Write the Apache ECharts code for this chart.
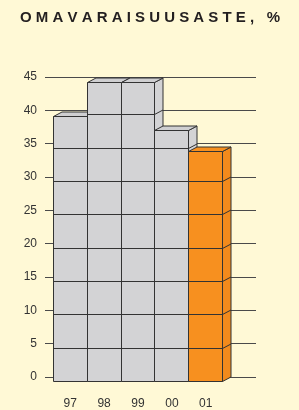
<!DOCTYPE html>
<html>
<head>
<meta charset="utf-8">
<script src="https://cdn.jsdelivr.net/npm/echarts@6/dist/echarts.min.js"></script>
<style>
  html, body { margin: 0; padding: 0; background: #fff9d6; }
  #chart { width: 299px; height: 410px; }
</style>
</head>
<body>
<div id="chart"></div>
<script>
// data
const years = ['97', '98', '99', '00', '01']
const values = [39.7, 44.8, 44.9, 37.7, 34.5]
const yMin = 0
const yMax = 45
const yStep = 5
const highlight = '01'

// look
const grey = '#d3d3d5'
const greyTop = '#cfcfd1'
const orange = '#f7901f'
const orangeSide = '#f28a1c'
const edge = '#333333'
const dx = 8.5 // depth offset of the 3d boxes
const dy = 4.5

function snap (v) {
  return Math.round(v - 0.5) + 0.5
}

function renderBox (params, api) {
  const i = api.value(0)
  const v = api.value(1)
  const base = api.coord([i, 0])
  const bw = api.size([1, 0])[0]
  const left = snap(base[0] - bw / 2)
  const right = snap(base[0] + bw / 2)
  const bottom = snap(base[1])
  const top = snap(api.coord([i, v])[1])
  const isHi = years[i] === highlight
  const face = isHi ? orange : grey
  const side = isHi ? orangeSide : grey
  const lineStyle = { stroke: edge, lineWidth: 1, fill: null }
  const children = [
    {
      type: 'polygon',
      shape: { points: [[right, bottom], [right + dx, bottom - dy], [right + dx, top - dy], [right, top]] },
      style: { fill: side, stroke: edge, lineWidth: 1 }
    },
    {
      type: 'polygon',
      shape: { points: [[left, top], [left + dx, top - dy], [right + dx, top - dy], [right, top]] },
      style: { fill: isHi ? orange : greyTop, stroke: edge, lineWidth: 1 }
    },
    {
      type: 'rect',
      shape: { x: left, y: top, width: right - left, height: bottom - top },
      style: { fill: face, stroke: edge, lineWidth: 1 }
    }
  ]
  // grid lines drawn on the faces of each box
  for (let t = yStep; t < v; t += yStep) {
    const y = snap(api.coord([i, t])[1])
    children.push({ type: 'line', shape: { x1: left, y1: y, x2: right, y2: y }, style: lineStyle })
    children.push({ type: 'line', shape: { x1: right, y1: y, x2: right + dx, y2: y - dy }, style: lineStyle })
  }
  return { type: 'group', children: children }
}

let myChart = echarts.init(document.getElementById('chart'))
myChart.setOption({
  backgroundColor: '#fff9d6',
  animation: false,
  title: {
    text: 'O M A V A R A I S U U S A S T E ,   %',
    left: 15,
    top: 5,
    textStyle: {
      fontFamily: 'Liberation Sans',
      fontSize: 15,
      fontWeight: 'bold',
      color: '#231f20'
    }
  },
  grid: [
    // back wall with the grid lines
    { left: 45, right: 43, top: 77, bottom: 33 },
    // front plane of the boxes
    { left: 53.3, right: 76.3, top: 77 + dy, bottom: 33 - dy }
  ],
  xAxis: [
    { gridIndex: 0, type: 'category', data: years, show: false },
    {
      gridIndex: 1,
      type: 'category',
      data: years,
      boundaryGap: true,
      axisLine: { show: false },
      axisTick: { show: false },
      axisLabel: {
        margin: 16,
        fontFamily: 'Liberation Sans',
        fontSize: 12,
        color: '#333'
      }
    }
  ],
  yAxis: [
    {
      gridIndex: 0,
      type: 'value',
      min: yMin,
      max: yMax,
      interval: yStep,
      axisLine: { show: false },
      axisTick: { show: false },
      axisLabel: {
        margin: 8,
        fontFamily: 'Liberation Sans',
        fontSize: 12,
        color: '#333'
      },
      splitLine: { lineStyle: { color: '#4a4a4a', width: 1 } }
    },
    { gridIndex: 1, type: 'value', min: yMin, max: yMax, show: false }
  ],
  series: [
    {
      type: 'custom',
      xAxisIndex: 1,
      yAxisIndex: 1,
      renderItem: renderBox,
      data: values.map((v, i) => [i, v])
    }
  ]
})
</script>
</body>
</html>
